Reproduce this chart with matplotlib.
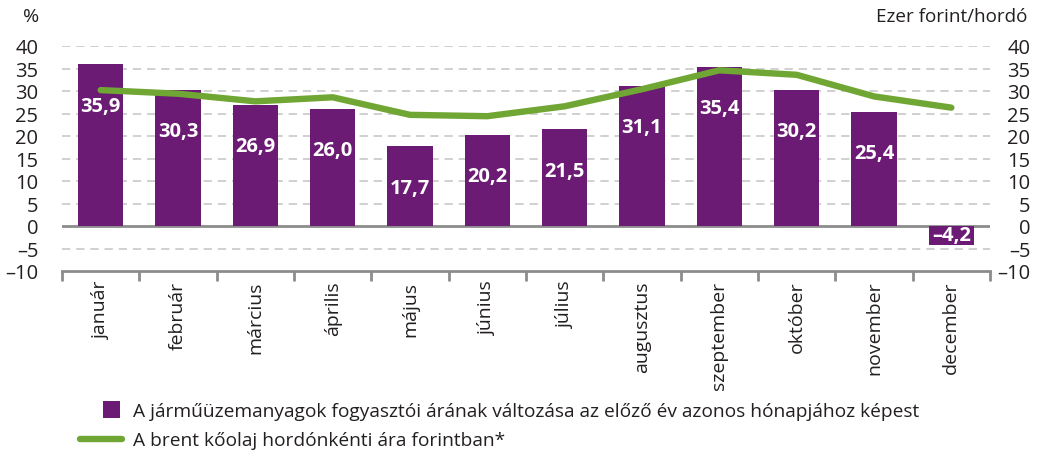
import matplotlib
matplotlib.use("Agg")
import matplotlib.pyplot as plt
from matplotlib.lines import Line2D
from matplotlib.patches import Patch, Rectangle
from matplotlib.legend_handler import HandlerPatch
from matplotlib.ticker import FuncFormatter, FixedLocator

plt.rcParams['font.family'] = ['Open Sans', 'DejaVu Sans']

months = ["január", "február", "március", "április", "május", "június",
          "július", "augusztus", "szeptember", "október", "november", "december"]
fuel_change = [35.9, 30.3, 26.9, 26.0, 17.7, 20.2, 21.5, 31.1, 35.4, 30.2, 25.4, -4.2]
brent_huf = [30.2, 29.4, 27.7, 28.6, 24.7, 24.4, 26.6, 30.4, 34.6, 33.6, 28.8, 26.3]
yticks = [-10, -5, 0, 5, 10, 15, 20, 25, 30, 35, 40]
legend_labels = ["A járműüzemanyagok fogyasztói árának változása az előző év azonos hónapjához képest",
                 "A brent kőolaj hordónkénti ára forintban*"]

BAR = "#6b1b74"
LINE = "#70a634"
GRID = "#c8c8c8"
AXIS = "#8c8c8c"
TXT = "#231f20"

fig = plt.figure(figsize=(10.4, 4.56), dpi=100)
ax = fig.add_axes([62/1040, 1-272/456, (990-62)/1040, (272-47)/456])
ax2 = ax.twinx()

x = list(range(len(months)))
ax.bar(x, fuel_change, width=0.59, color=BAR, zorder=3)
ax.set_xlim(-0.5, len(months)-0.5)
ax.set_ylim(-10, 40)
ax2.set_ylim(-10, 40)

ax2.plot(x, brent_huf, color=LINE, lw=4.6, solid_capstyle='round', solid_joinstyle='round', zorder=4)

for v in yticks:
    if v in (-10, 0):
        continue
    ax.axhline(v, color=GRID, lw=1.2, ls=(0, (5, 3.5)), zorder=1)
ax.axhline(0, color=AXIS, lw=2, zorder=2)

for s in ["top", "left", "right"]:
    ax.spines[s].set_visible(False)
    ax2.spines[s].set_visible(False)
ax2.spines["bottom"].set_visible(False)
ax.spines["bottom"].set_color(AXIS)
ax.spines["bottom"].set_linewidth(2)

fmt = FuncFormatter(lambda v, p: f"{int(v)}".replace("-", "\u2013"))
ax.set_yticks(yticks)
ax.yaxis.set_major_formatter(fmt)
ax.tick_params(axis='y', length=0, pad=17, labelsize=14.5, labelcolor=TXT)
ax2.set_yticks(yticks)
ax2.yaxis.set_major_formatter(fmt)
ax2.tick_params(axis='y', length=0, pad=29, labelsize=14.5, labelcolor=TXT)
for lab in ax2.get_yticklabels():
    lab.set_horizontalalignment('right')

ax.xaxis.set_major_locator(FixedLocator([i - 0.5 for i in range(len(months)+1)]))
ax.xaxis.set_minor_locator(FixedLocator(x))
ax.set_xticklabels([""] * (len(months)+1))
ax.set_xticklabels(months, minor=True, rotation=90, fontsize=14, color=TXT, va='top')
ax.tick_params(axis='x', which='major', length=7, width=2, color=AXIS, direction='out')
ax.tick_params(axis='x', which='minor', length=0, pad=7)

for xi, v in zip(x, fuel_change):
    y = v - 9.2 if v > 0 else v / 2
    ax.text(xi, y, f"{v:.1f}".replace(".", ",").replace("-", "\u2013"), ha='center', va='center',
            color='white', fontsize=14.5, fontweight='bold', zorder=5)

fig.text(31/1040, 1-17/456, "%", ha='center', va='center', fontsize=14, color=TXT)
fig.text(1027/1040, 1-17/456, "Ezer forint/hordó", ha='right', va='center', fontsize=13.6, color=TXT)


def square_patch(legend, orig_handle, xdescent, ydescent, width, height, fontsize):
    s = height * 1.25
    return Rectangle((width - s - 0.05 * width, (height - s) / 2 - ydescent), s, s)


handles = [Patch(facecolor=BAR, edgecolor='none'),
           Line2D([0], [0], color=LINE, lw=4.6, solid_capstyle='round')]
leg = fig.legend(handles, legend_labels, loc='upper left', bbox_to_anchor=(80/1040, 1-403/456),
                 frameon=False, fontsize=13.8, handlelength=2.2, handletextpad=0.55,
                 labelspacing=0.6, borderaxespad=0, borderpad=0,
                 handler_map={Patch: HandlerPatch(patch_func=square_patch)})
for t in leg.get_texts():
    t.set_color(TXT)

fig.savefig("out.png", dpi=100)
